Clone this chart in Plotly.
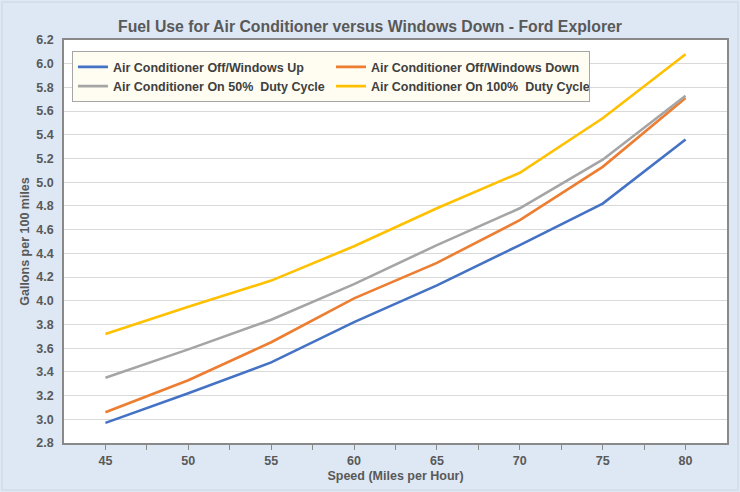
import plotly.graph_objects as go

speeds = [45, 50, 55, 60, 65, 70, 75, 80]
ac_off_windows_up = [2.97, 3.22, 3.48, 3.82, 4.13, 4.47, 4.82, 5.36]
ac_off_windows_down = [3.06, 3.33, 3.65, 4.02, 4.32, 4.68, 5.13, 5.71]
ac_on_50 = [3.35, 3.59, 3.84, 4.14, 4.47, 4.78, 5.19, 5.73]
ac_on_100 = [3.72, 3.95, 4.17, 4.46, 4.78, 5.08, 5.54, 6.08]

series_names = [
    "Air Conditioner Off/Windows Up",
    "Air Conditioner Off/Windows Down",
    "Air Conditioner On 50%  Duty Cycle",
    "Air Conditioner On 100%  Duty Cycle",
]
series_values = [ac_off_windows_up, ac_off_windows_down, ac_on_50, ac_on_100]
colors = ["#4472C4", "#ED7D31", "#A5A5A5", "#FFC000"]

x_tickvals = [45, 47.5, 50, 52.5, 55, 57.5, 60, 62.5, 65, 67.5, 70, 72.5, 75, 77.5, 80]
x_ticktext = ["45", "", "50", "", "55", "", "60", "", "65", "", "70", "", "75", "", "80"]
y_tickvals = [2.8, 3.0, 3.2, 3.4, 3.6, 3.8, 4.0, 4.2, 4.4, 4.6, 4.8, 5.0, 5.2, 5.4, 5.6, 5.8, 6.0, 6.2]
y_ticktext = [f"{v:.1f}" for v in y_tickvals]

FONT = "Liberation Sans, Arial, sans-serif"
TXT = "#595959"

fig = go.Figure()
for name, vals, c in zip(series_names, series_values, colors):
    fig.add_trace(go.Scatter(x=speeds, y=vals, mode="lines", name=name,
                             line=dict(color=c, width=2.6)))

fig.update_layout(
    width=740, height=492,
    margin=dict(l=64, r=13, t=40, b=49),
    paper_bgcolor="#dde8f4",
    plot_bgcolor="#ffffff",
    font=dict(family=FONT, color=TXT, size=12),
    title=dict(text="Fuel Use for Air Conditioner versus Windows Down - Ford Explorer",
               x=0.5, xanchor="center", y=0.946, yanchor="middle",
               font=dict(size=15.8, color=TXT, family=FONT, weight="bold")),
    showlegend=True,
    legend=dict(orientation="h", x=0.012, y=0.972, xanchor="left", yanchor="top",
                bgcolor="#fffdf2", bordercolor="#a6a6a6", borderwidth=1,
                entrywidth=213, entrywidthmode="pixels",
                font=dict(size=12.5, color="#404040", family=FONT, weight="bold"),
                tracegroupgap=0, itemwidth=30),
    xaxis=dict(range=[42.5, 82.5], tickmode="array", tickvals=x_tickvals, ticktext=x_ticktext,
               ticks="outside", ticklen=5, tickcolor="#898989", tickwidth=1,
               showgrid=False, zeroline=False,
               showline=True, linecolor="#898989", linewidth=1.5, mirror=True,
               tickfont=dict(size=12.5, color=TXT, family=FONT, weight="bold"),
               title=dict(text="Speed (Miles per Hour)", standoff=4,
                          font=dict(size=12.5, color=TXT, family=FONT, weight="bold"))),
    yaxis=dict(range=[2.8, 6.2], tickmode="array", tickvals=y_tickvals, ticktext=y_ticktext,
               ticks="", showgrid=True, gridcolor="#d9d9d9", gridwidth=1, zeroline=False,
               showline=True, linecolor="#898989", linewidth=1.5, mirror=True,
               ticklabelstandoff=6,
               tickfont=dict(size=12.5, color=TXT, family=FONT, weight="bold"),
               title=dict(text="Gallons per 100 miles", standoff=4,
                          font=dict(size=12.5, color=TXT, family=FONT, weight="bold"))),
    shapes=[dict(type="rect", xref="paper", yref="paper",
                 x0=-62 / 663, x1=1 + 11 / 663, y0=-47 / 403, y1=1 + 38 / 403,
                 line=dict(color="#c9d6e5", width=1), layer="below")],
)
fig.write_html("out.html", config={"displayModeBar": False},
               post_script="document.body.style.margin='0';")
